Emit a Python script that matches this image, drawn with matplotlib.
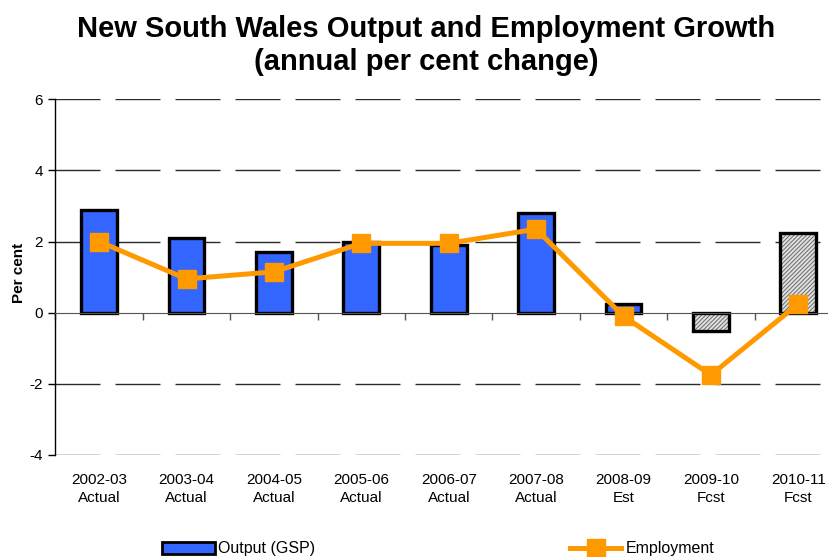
import matplotlib
matplotlib.use("Agg")
import matplotlib.pyplot as plt
from matplotlib.patches import Patch
from matplotlib.lines import Line2D
from matplotlib.transforms import blended_transform_factory
import numpy as np

plt.rcParams['font.family'] = ['Liberation Sans', 'DejaVu Sans']
plt.rcParams['lines.scale_dashes'] = False
plt.rcParams['hatch.linewidth'] = 0.7

years = ["2002-03", "2003-04", "2004-05", "2005-06", "2006-07",
         "2007-08", "2008-09", "2009-10", "2010-11"]
status = ["Actual", "Actual", "Actual", "Actual", "Actual",
          "Actual", "Est", "Fcst", "Fcst"]
output_gsp = [2.9, 2.1, 1.7, 2.0, 1.9, 2.8, 0.25, -0.5, 2.25]
employment = [2.0, 0.95, 1.15, 1.95, 1.95, 2.35, -0.1, -1.75, 0.25]
forecast = [False, False, False, False, False, False, False, True, True]
yticks = [-4, -2, 0, 2, 4, 6]

BLUE = "#3366FF"
ORANGE = "#FF9900"

fig = plt.figure(figsize=(8.29, 5.57), dpi=100)
W, H = 829, 557
left, right, top, bottom = 55.5, 842.0, 99.3, 455.0
ax = fig.add_axes([left / W, 1 - bottom / H, (right - left) / W, (bottom - top) / H])

x = np.arange(len(years))
bw = 0.41

# dashed gridlines at the major y ticks
for v in yticks:
    if v != 0:
        ax.axhline(v, color="#2a2a2a", lw=1.0, dashes=(32.4, 10.8), zorder=1)

# output bars: solid blue for actual/estimate, hatched grey for forecasts
for xi, val, fc in zip(x, output_gsp, forecast):
    if fc:
        ax.bar(xi, val, bw, color="#e0e0e0", hatch="////////",
               edgecolor="#6a6a6a", linewidth=0, zorder=2)
        ax.bar(xi, val, bw, facecolor="none", edgecolor="black",
               linewidth=2.4, zorder=3)
    else:
        ax.bar(xi, val, bw, color=BLUE, edgecolor="black",
               linewidth=2.4, zorder=3)

ax.plot(x, employment, color=ORANGE, lw=3.6, marker="s", ms=13,
        mec=ORANGE, mfc=ORANGE, zorder=5, clip_on=False)

ax.set_xlim(-0.5, len(years) - 0.5)
ax.set_ylim(-4, 6)
ax.set_yticks(yticks)
ax.set_yticklabels([str(v) for v in yticks], fontsize=11)
ax.tick_params(axis="y", direction="out", length=5, width=1, pad=4)

ax.spines["top"].set_visible(False)
ax.spines["right"].set_visible(False)
ax.spines["bottom"].set_position(("data", 0))
ax.spines["bottom"].set_color("#555555")
ax.spines["bottom"].set_zorder(4)
ax.spines["left"].set_linewidth(1.0)

ax.set_xticks(x)
ax.set_xticklabels([])
ax.tick_params(axis="x", which="major", length=0)
ax.set_xticks(np.arange(len(years) + 1) - 0.5, minor=True)
ax.tick_params(axis="x", which="minor", direction="out", length=5,
               width=1, color="#555555")

trans = blended_transform_factory(ax.transData, ax.transAxes)
for xi, yr, st in zip(x, years, status):
    ax.text(xi, -0.0956, f"{yr}\n{st}", transform=trans, ha="center",
            va="center", fontsize=11, linespacing=1.31)

ax.set_ylabel("Per cent", fontsize=11, fontweight="bold")
ax.yaxis.set_label_coords(26 / W, 1 - 273 / H, transform=fig.transFigure)

fig.text(426 / W, 1 - 29 / H, "New South Wales Output and Employment Growth",
         ha="center", va="center", fontsize=21, fontweight="bold")
fig.text(426 / W, 1 - 62 / H, "(annual per cent change)",
         ha="center", va="center", fontsize=21, fontweight="bold")

h1 = Patch(facecolor=BLUE, edgecolor="black", linewidth=2)
fig.legend([h1], ["Output (GSP)"], loc="center left",
           bbox_to_anchor=(162 / W, 1 - 549 / H), frameon=False,
           fontsize=11.5, handlelength=3.3, handleheight=0.8,
           handletextpad=0.2, borderpad=0, borderaxespad=0)
h2 = Line2D([], [], color=ORANGE, lw=3.6, marker="s", ms=13)
fig.legend([h2], ["Employment"], loc="center left",
           bbox_to_anchor=(570 / W, 1 - 549 / H), frameon=False,
           fontsize=11.5, handlelength=3.2, handletextpad=0.3,
           borderpad=0, borderaxespad=0)

fig.savefig("out.png", dpi=100)
